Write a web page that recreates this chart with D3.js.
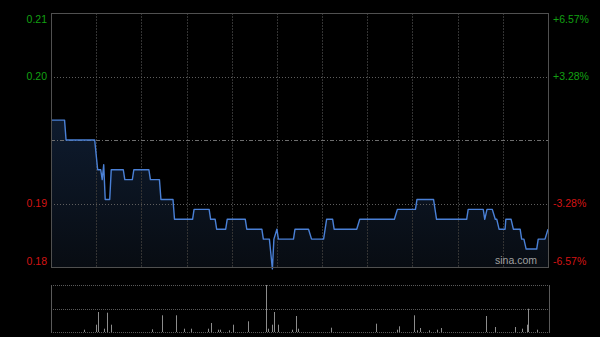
<!DOCTYPE html>
<html>
<head>
<meta charset="utf-8">
<script src="https://cdn.jsdelivr.net/npm/d3@7"></script>
<style>
  html, body { margin: 0; padding: 0; background: #000; }
  svg { display: block; }
</style>
</head>
<body>
<div id="chart"></div>
<script>
// Chart size
const width = 600;
const height = 337;

// Previous close and axis range (+/- 6.57%)
const prevClose = 0.195;
const rangePct = 0.0657;

// Left and right axis labels
const priceLabels = ["0.21", "0.20", "0.19", "0.18"];
const pctLabels = ["+6.57%", "+3.28%", "-3.28%", "-6.57%"];
const labelLevels = [1, 0.5, -0.5, -1];

// Price series: minute of session (0-330) and price at that minute
const minutes = [0, 9, 10, 29, 31, 33, 34, 35, 36, 39, 40, 48, 49, 54, 55, 65, 66, 72, 73, 81,
  82, 94, 95, 105, 106, 109, 110, 116, 117, 129, 130, 140, 141, 145, 147, 148, 150, 151, 161, 162,
  171, 173, 181, 183, 187, 188, 203, 205, 228, 230, 242, 243, 254, 256, 276, 277, 287, 288, 289.5, 293,
  295, 296, 297.5, 301.5, 302, 305.5, 307, 311.5, 312.5, 314, 315.5, 322.5, 323.5, 328, 330];
const prices = [0.197, 0.197, 0.195, 0.195, 0.192, 0.192, 0.191, 0.1925, 0.189, 0.189, 0.192, 0.192, 0.191, 0.191, 0.192, 0.192, 0.191, 0.191, 0.189, 0.189,
  0.187, 0.187, 0.188, 0.188, 0.187, 0.187, 0.186, 0.186, 0.187, 0.187, 0.186, 0.186, 0.185, 0.185, 0.182, 0.185, 0.186, 0.185, 0.185, 0.186,
  0.186, 0.185, 0.185, 0.187, 0.187, 0.186, 0.186, 0.187, 0.187, 0.188, 0.188, 0.189, 0.189, 0.187, 0.187, 0.188, 0.188, 0.187, 0.188, 0.188,
  0.187, 0.187, 0.186, 0.186, 0.187, 0.187, 0.186, 0.186, 0.185, 0.185, 0.184, 0.184, 0.185, 0.185, 0.186];

// Volume bars (minute, volume in 10k shares)
const volMinutes = [22, 30, 31, 35, 37, 40, 67, 74, 83, 88, 93, 104, 106, 111, 112, 118, 121, 131, 143, 144,
  147, 148, 151, 160, 163, 164, 186, 216, 230, 231, 241, 243, 245, 251, 256, 259, 289, 295, 308, 313,
  316, 317, 323];
const volumes = [23, 73, 200, 33, 193, 73, 27, 167, 167, 33, 33, 33, 90, 23, 23, 17, 73, 107, 470, 33,
  73, 200, 73, 23, 160, 33, 43, 83, 23, 57, 167, 17, 40, 17, 23, 40, 160, 50, 50, 33,
  73, 233, 23];

const svg = d3.select("#chart")
  .append("svg")
  .attr("width", width)
  .attr("height", height)
  .style("background", "#000");

// Plot areas
const plotLeft = 51, plotRight = 548;
const plotTop = 13, plotBottom = 267;
const vTop = 285, vBottom = 332;

const x = d3.scaleLinear().domain([0, 330]).range([plotLeft, plotRight]);
const y = d3.scaleLinear()
  .domain([prevClose * (1 - rangePct), prevClose * (1 + rangePct)])
  .range([plotBottom, plotTop]);
const yv = d3.scaleLinear().domain([0, d3.max(volumes)]).range([vBottom, vTop]);

const gridTicks = d3.range(30, 330, 30);

// Area gradient
const defs = svg.append("defs");
const grad = defs.append("linearGradient")
  .attr("id", "areaGrad")
  .attr("x1", 0).attr("y1", 0).attr("x2", 0).attr("y2", 1);
grad.append("stop").attr("offset", "0%").attr("stop-color", "#0e1b2e");
grad.append("stop").attr("offset", "100%").attr("stop-color", "#080c12");

const series = minutes.map((m, i) => ({ m: m, p: prices[i] }));

const area = d3.area()
  .x(d => x(d.m))
  .y0(plotBottom)
  .y1(d => y(d.p));

const line = d3.line()
  .x(d => x(d.m))
  .y(d => y(d.p));

svg.append("path")
  .datum(series)
  .attr("d", area)
  .attr("fill", "url(#areaGrad)");

// Vertical grid lines in the price panel
svg.selectAll(".vgrid")
  .data(gridTicks)
  .enter()
  .append("line")
  .attr("x1", d => Math.round(x(d)) + 0.5)
  .attr("x2", d => Math.round(x(d)) + 0.5)
  .attr("y1", plotTop)
  .attr("y2", plotBottom)
  .attr("stroke", "#333")
  .attr("stroke-dasharray", "2,1");

// Horizontal grid lines at +/- half range
svg.selectAll(".hgrid")
  .data([0.5, -0.5])
  .enter()
  .append("line")
  .attr("x1", plotLeft)
  .attr("x2", plotRight)
  .attr("y1", d => Math.round(y(prevClose * (1 + d * rangePct))) + 0.5)
  .attr("y2", d => Math.round(y(prevClose * (1 + d * rangePct))) + 0.5)
  .attr("stroke", "#5e5e5e")
  .attr("stroke-dasharray", "1,2");

// Previous close line (dash-dot)
svg.append("line")
  .attr("x1", plotLeft)
  .attr("x2", plotRight)
  .attr("y1", Math.round(y(prevClose)) + 0.5)
  .attr("y2", Math.round(y(prevClose)) + 0.5)
  .attr("stroke", "#6e6e6e")
  .attr("stroke-dasharray", "4,2,1,2");

svg.append("path")
  .datum(series)
  .attr("d", line)
  .attr("fill", "none")
  .attr("stroke", "#4a80d6")
  .attr("stroke-width", 1.4)
  .attr("stroke-linejoin", "round");

// Price panel frame
svg.append("rect")
  .attr("x", plotLeft + 0.5)
  .attr("y", plotTop + 0.5)
  .attr("width", plotRight - plotLeft)
  .attr("height", plotBottom - plotTop)
  .attr("fill", "none")
  .attr("stroke", "#505050");

// Axis labels
const labelColor = d => d > 0 ? "#12a012" : "#d41414";
const labelY = (d, i) => {
  const yy = y(prevClose * (1 + d * rangePct));
  if (i === 0) return yy + 6;
  if (i === 3) return yy - 6;
  return yy;
};

svg.selectAll(".lbl")
  .data(labelLevels)
  .enter()
  .append("text")
  .attr("x", 47)
  .attr("y", labelY)
  .attr("dy", "0.35em")
  .attr("text-anchor", "end")
  .attr("font-family", "Liberation Sans, Arial, sans-serif")
  .attr("font-size", "10.5px")
  .attr("fill", labelColor)
  .text((d, i) => priceLabels[i]);

svg.selectAll(".pct")
  .data(labelLevels)
  .enter()
  .append("text")
  .attr("x", 553)
  .attr("y", labelY)
  .attr("dy", "0.35em")
  .attr("text-anchor", "start")
  .attr("font-family", "Liberation Sans, Arial, sans-serif")
  .attr("font-size", "10.5px")
  .attr("fill", labelColor)
  .text((d, i) => pctLabels[i]);

// Watermark
svg.append("text")
  .attr("x", 537)
  .attr("y", 264)
  .attr("text-anchor", "end")
  .attr("font-family", "Liberation Sans, Arial, sans-serif")
  .attr("font-size", "10.5px")
  .attr("fill", "#a0a0a0")
  .text("sina.com");

// Volume panel grid
svg.selectAll(".vol-h")
  .data([vTop, (vTop + vBottom) / 2, vBottom])
  .enter()
  .append("line")
  .attr("x1", plotLeft)
  .attr("x2", plotRight + 1)
  .attr("y1", d => Math.round(d) + 0.5)
  .attr("y2", d => Math.round(d) + 0.5)
  .attr("stroke", "#5a5a5a")
  .attr("stroke-dasharray", "1,1");

svg.selectAll(".vol-v")
  .data([plotLeft, plotRight + 1])
  .enter()
  .append("line")
  .attr("x1", d => d + 0.5)
  .attr("x2", d => d + 0.5)
  .attr("y1", vTop)
  .attr("y2", vBottom + 1)
  .attr("stroke", "#5a5a5a");

// Volume bars
svg.selectAll(".bar")
  .data(volMinutes)
  .enter()
  .append("line")
  .attr("x1", d => Math.round(x(d)) + 0.5)
  .attr("x2", d => Math.round(x(d)) + 0.5)
  .attr("y1", vBottom)
  .attr("y2", (d, i) => yv(volumes[i]))
  .attr("stroke", "#8c8c8c");
</script>
</body>
</html>
